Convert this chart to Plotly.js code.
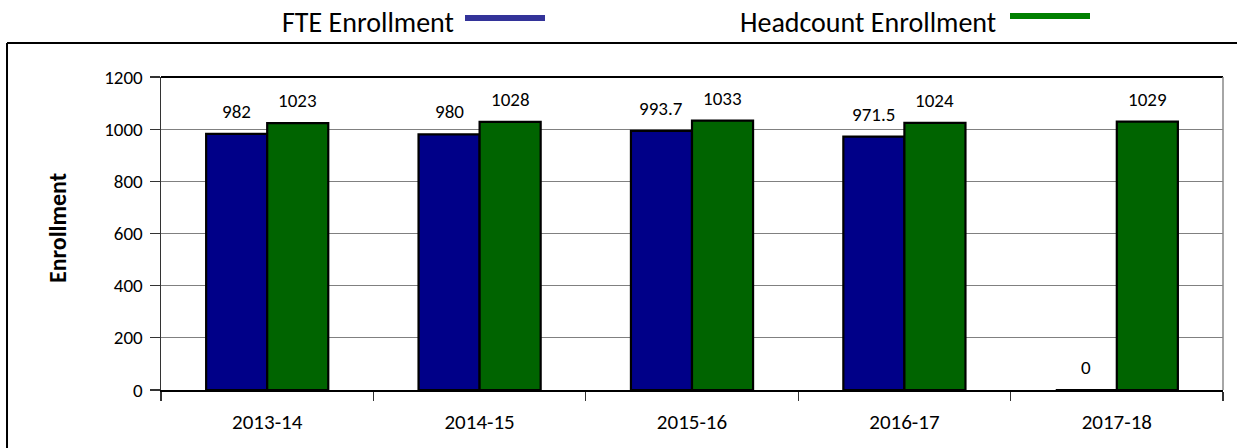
<!DOCTYPE html>
<html><head><meta charset="utf-8">
<script src="https://cdn.plot.ly/plotly-3.0.1.min.js"></script>
<style>body{margin:0;background:#fff}#c{width:1237px;height:448px}</style>
</head><body><div id="c"></div>
<script>
var categories = ['2013-14','2014-15','2015-16','2016-17','2017-18'];
var fteValues = [982, 980, 993.7, 971.5, 0];
var headcountValues = [1023, 1028, 1033, 1024, 1029];
var seriesNames = ['FTE Enrollment', 'Headcount Enrollment'];
var yTicks = [0, 200, 400, 600, 800, 1000, 1200];

var F = 'Carlito, Calibri, Lato, "Open Sans", sans-serif';
function bar(name, vals, color){
  return {type:'bar', name:name, x:categories, y:vals,
    marker:{color:color, line:{color:'#000', width:2.2}},
    showlegend:false, hoverinfo:'x+y'};
}
var data = [bar(seriesNames[0], fteValues, '#000088'), bar(seriesNames[1], headcountValues, '#006400')];

var bargap = 0.425;
var plotW = 1237 - 161 - 14;
var barW = plotW / categories.length * (1 - bargap) / 2;
var labels = [];
[fteValues, headcountValues].forEach(function(vals, si){
  vals.forEach(function(v, i){
    labels.push({x:categories[i], y:v, xref:'x', yref:'y', showarrow:false, yanchor:'bottom',
      xshift:(si === 0 ? -1 : 1) * barW / 2, yshift:9, text:String(v),
      font:{family:F, size:19, color:'#000'}});
  });
});

var layout = {
  width:1237, height:448, margin:{l:161, r:14, t:77, b:58},
  paper_bgcolor:'#fff', plot_bgcolor:'#fff',
  bargap:bargap, bargroupgap:0, barmode:'group',
  font:{family:F, color:'#000'},
  xaxis:{type:'category', tickson:'boundaries', ticks:'outside', ticklen:9, tickcolor:'#333', tickwidth:1.2,
    showline:true, linecolor:'#000', linewidth:1.5, showgrid:false, ticklabelstandoff:12,
    tickfont:{family:F, size:21, color:'#000'}},
  yaxis:{range:[0,1200], tickvals:yTicks, ticks:'outside', ticklen:10, tickcolor:'#333', tickwidth:1.2,
    showline:true, linecolor:'#333', linewidth:1.5, showgrid:true, gridcolor:'#808080', gridwidth:1,
    zeroline:false, ticklabelstandoff:3, tickfont:{family:F, size:19, color:'#000'}},
  shapes:[
    {type:'line', xref:'paper', yref:'paper', x0:0, x1:1, y0:1, y1:1, line:{color:'#000', width:2}},
    {type:'line', xref:'paper', yref:'paper', x0:1, x1:1, y0:0, y1:1, line:{color:'#888', width:1.5}},
    {type:'line', xref:'paper', yref:'paper', x0:-0.145, x1:1.02, y0:1.1086, y1:1.1086, line:{color:'#000', width:2}},
    {type:'line', xref:'paper', yref:'paper', x0:-0.145, x1:-0.145, y0:-0.2, y1:1.1086, line:{color:'#000', width:2}},
    {type:'line', xref:'paper', yref:'paper', x0:(465-161)/1062, x1:(545-161)/1062, y0:(390-18)/313, y1:(390-18)/313, line:{color:'#333399', width:6}},
    {type:'line', xref:'paper', yref:'paper', x0:(1010-161)/1062, x1:(1090-161)/1062, y0:(390-16)/313, y1:(390-16)/313, line:{color:'#008000', width:6}}
  ],
  annotations:labels.concat([
    {xref:'paper', yref:'paper', x:(456-161)/1062, y:(390-22)/313, xanchor:'right', yanchor:'middle', showarrow:false,
     text:seriesNames[0], font:{family:F, size:28, color:'#000'}},
    {xref:'paper', yref:'paper', x:(998-161)/1062, y:(390-22)/313, xanchor:'right', yanchor:'middle', showarrow:false,
     text:seriesNames[1], font:{family:F, size:28, color:'#000'}},
    {xref:'paper', yref:'paper', x:(57-161)/1062, y:(390-228)/313, xanchor:'center', yanchor:'middle', showarrow:false,
     textangle:-90, text:'<b>Enrollment</b>', font:{family:F, size:24, color:'#000'}}
  ])
};
Plotly.newPlot('c', data, layout, {displayModeBar:false, staticPlot:true});
</script></body></html>
